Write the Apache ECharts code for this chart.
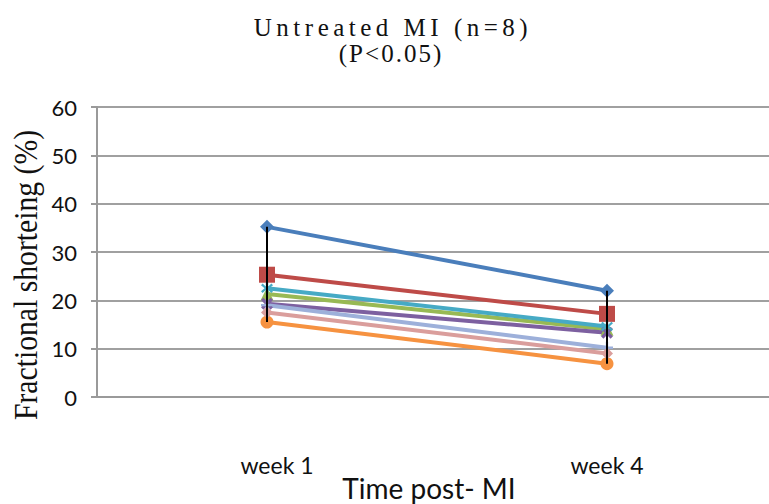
<!DOCTYPE html>
<html><head><meta charset="utf-8">
<script src="https://cdn.jsdelivr.net/npm/echarts@6/dist/echarts.min.js"></script>
<style>html,body{margin:0;padding:0;background:#fff}#c{width:769px;height:504px}</style>
</head><body><div id="c"></div>
<script>
const categories = ['week 1', 'week 4'];
const seriesNames = ['Rat 1','Rat 2','Rat 3','Rat 4','Rat 5','Rat 6','Rat 7','Rat 8'];
const rat1 = [35.2, 22.0];
const rat2 = [25.3, 17.2];
const rat3 = [21.3, 14.0];
const rat4 = [19.3, 13.3];
const rat5 = [22.5, 14.6];
const rat6 = [15.5, 6.9];
const rat7 = [19.0, 10.2];
const rat8 = [17.5, 9.0];
const yTicks = [0, 10, 20, 30, 40, 50, 60];
const titleLine1 = 'Untreated MI (n=8)';
const titleLine2 = '(P<0.05)';
const yName = 'Fractional shorteing (%)';
const xName = 'Time post- MI';

const allSeries = [rat1, rat2, rat3, rat4, rat5, rat6, rat7, rat8];
const colors = ['#4A7EBB','#BE4B48','#98B954','#7D60A0','#46AAC5','#F69240','#9DB0DA','#DA9E9C'];
const xPath = 'path://M0,2L2,0L5,3L8,0L10,2L7,5L10,8L8,10L5,7L2,10L0,8L3,5Z';
const starPath = 'path://M4,0H6V3.6L8.6,1L9.9,2.4L7,5L9.9,7.6L8.6,9L6,6.4V10H4V6.4L1.4,9L0.1,7.6L3,5L0.1,2.4L1.4,1L4,3.6Z';
const plusPath = 'path://M4,0H6V4H10V6H6V10H4V6H0V4H4Z';
const symbols = ['diamond','rect','triangle',xPath,starPath,'circle',plusPath,'diamond'];
const sizes = [14,16,13,12,12,13,12,12];

const ranges = categories.map((c, i) => {
  const vals = allSeries.map(s => s[i]);
  return [i, Math.min(...vals), Math.max(...vals)];
});

const lineSeries = allSeries.map((d, k) => ({
  name: seriesNames[k], type: 'line', data: d,
  symbol: symbols[k], symbolSize: sizes[k],
  lineStyle: { width: 4, color: colors[k] },
  itemStyle: { color: colors[k] },
  z: 3
}));

const chart = echarts.init(document.getElementById('c'), null, { renderer: 'svg' });
chart.setOption({
  animation: false,
  graphic: [
    { type: 'text', x: 393, y: 27, silent: true,
      style: { text: titleLine1, font: '25px "Liberation Serif"', fill: '#111', align: 'center', verticalAlign: 'middle' } },
    { type: 'text', x: 391, y: 53, silent: true,
      style: { text: titleLine2, font: '25px "Liberation Serif"', fill: '#111', align: 'center', verticalAlign: 'middle' } },
    { type: 'text', x: 26, y: 275, rotation: Math.PI / 2, scaleX: 0.9, silent: true,
      style: { text: yName, font: '33px "Liberation Serif"', fill: '#111', align: 'center', verticalAlign: 'middle' } }
  ],
  grid: { left: 97, top: 107, width: 680, height: 290, outerBoundsMode: 'none', containLabel: false },
  xAxis: {
    type: 'category', data: categories, boundaryGap: true,
    axisLine: { lineStyle: { color: '#9a9a9a', width: 2 } },
    axisTick: { show: false },
    axisLabel: { margin: 56, fontSize: 23, color: '#111', fontFamily: 'Lato',
      formatter: (v, i) => i === 0 ? '{a|' + v + '}' : v,
      rich: { a: { fontSize: 23, color: '#111', fontFamily: 'Lato', padding: [0, 0, 0, 20] } } },
    name: xName, nameLocation: 'middle', nameGap: 77, nameMoveOverlap: false,
    nameTextStyle: { fontSize: 28, color: '#111', fontFamily: 'Lato', padding: [0, 16, 0, 0] }
  },
  yAxis: {
    type: 'value', min: yTicks[0], max: yTicks[yTicks.length - 1], interval: 10,
    axisLine: { show: true, lineStyle: { color: '#9a9a9a', width: 2 } },
    axisTick: { show: true, length: 6, lineStyle: { color: '#9a9a9a', width: 2 } },
    splitLine: { lineStyle: { color: '#a0a0a0', width: 2 } },
    axisLabel: { margin: 20, fontSize: 22, color: '#111', fontFamily: 'Lato',
      formatter: v => String(yTicks[yTicks.indexOf(v)]) }
  },
  series: lineSeries.concat([{
    type: 'custom', data: ranges, z: 10, silent: true,
    renderItem: function (params, api) {
      const a = api.coord([api.value(0), api.value(1)]);
      const b = api.coord([api.value(0), api.value(2)]);
      return { type: 'line', shape: { x1: a[0], y1: a[1], x2: b[0], y2: b[1] },
        style: { stroke: '#000', lineWidth: 2 } };
    }
  }])
});

function applySpacing() {
  document.querySelectorAll('#c text').forEach(t => {
    if (t.textContent === titleLine1) t.style.letterSpacing = '4.5px';
    else if (t.textContent === titleLine2) t.style.letterSpacing = '2px';
  });
}
applySpacing();
chart.on('finished', applySpacing);
</script></body></html>
